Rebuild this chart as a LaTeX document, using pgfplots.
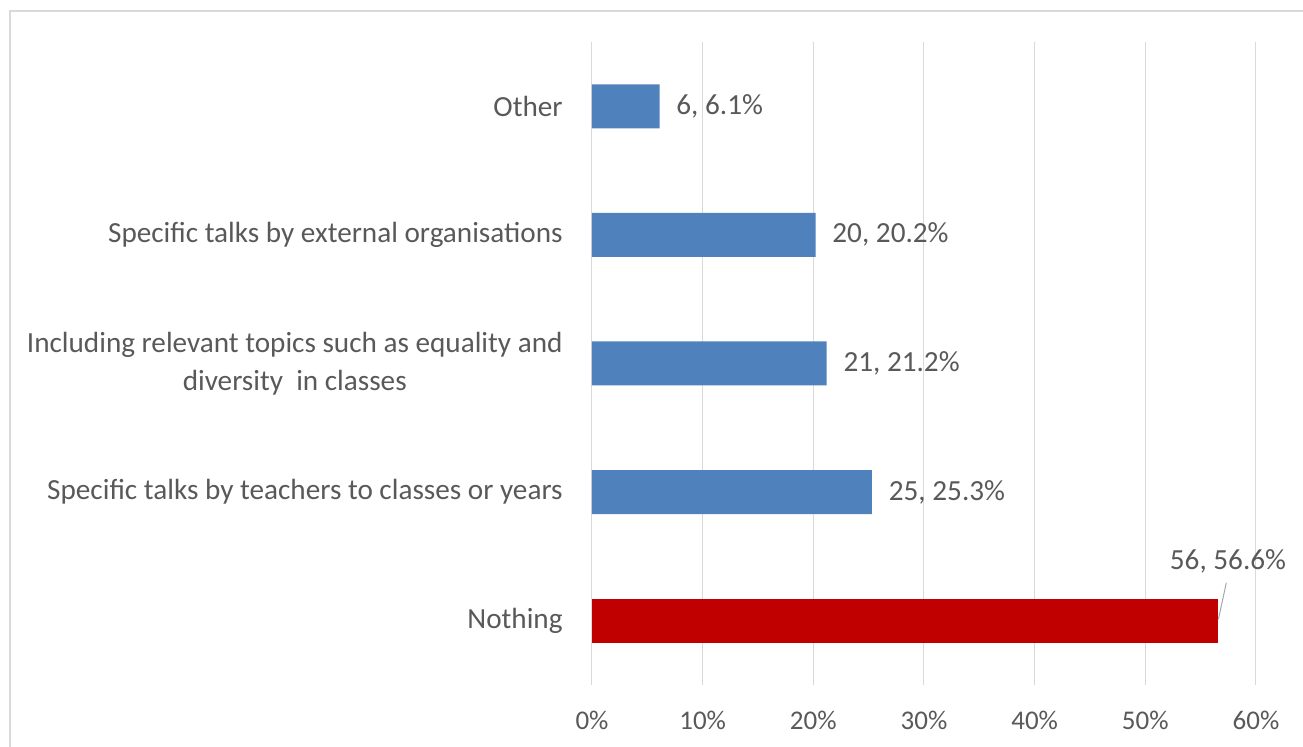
\documentclass[border=0pt]{standalone}
\usepackage{pgfplots}
\pgfplotsset{compat=1.18}
\usepackage{fontspec}
\setmainfont{Carlito}
\definecolor{barblue}{HTML}{4F81BD}
\definecolor{barred}{HTML}{C00000}
\definecolor{gridgray}{HTML}{D9D9D9}
\definecolor{txt}{HTML}{595959}
\newcommand\lblfont{\fontsize{14.6}{19}\selectfont}
\newcommand\tickfont{\fontsize{13.5}{15}\selectfont}
\begin{document}
\begin{tikzpicture}[x=1pt,y=1pt]
\path[use as bounding box] (0,0) rectangle (651.5,373.5);
\draw[gridgray, line width=1pt] (5,0) -- (5,368) -- (651.5,368);
\begin{axis}[
 at={(296pt,31pt)}, anchor=south west,
 scale only axis, width=332pt, height=321.5pt,
 xbar, bar width=22pt, bar shift=0pt,
 xmin=0, xmax=60, ymin=-0.5, ymax=4.5,
 xtick={0,10,20,30,40,50,60},
 xticklabels={0\%,10\%,20\%,30\%,40\%,50\%,60\%},
 ytick={0,1,2,3,4},
 yticklabels={Nothing, Specific talks by teachers to classes or years, {Including relevant topics such as equality and\\diversity\ \ in classes}, Specific talks by external organisations, Other},
 y tick label style={align=center, font=\lblfont, text=txt, inner sep=0pt, xshift=-14.5pt},
 x tick label style={font=\tickfont, text=txt, anchor=center, yshift=-17.5pt, inner sep=0pt},
 xmajorgrids, major grid style={gridgray, line width=0.5pt},
 axis line style={draw=none},
 major tick length=0pt, tick style={draw=none},
 clip=false,
]
\addplot[fill=barblue, draw=none,
  nodes near coords, point meta=explicit symbolic,
  every node near coord/.append style={anchor=west, inner sep=0pt, xshift=8.25pt, font=\lblfont, text=txt}]
  table[col sep=semicolon, x=x, y=y, meta=lbl] {
x;y;lbl
25.3;1;{25, 25.3\%}
21.2;2;{21, 21.2\%}
20.2;3;{20, 20.2\%}
6.1;4;{6, 6.1\%}
};
\addplot[fill=barred, draw=none] coordinates {(56.6,0)};
\draw[color=black!35, line width=0.5pt] (axis cs:56.6,0.01) -- (axis cs:57.32,0.295);
\node[font=\lblfont, text=txt, inner sep=0pt] at (axis cs:57.47,0.459) {56, 56.6\%};
\end{axis}
\end{tikzpicture}
\end{document}
